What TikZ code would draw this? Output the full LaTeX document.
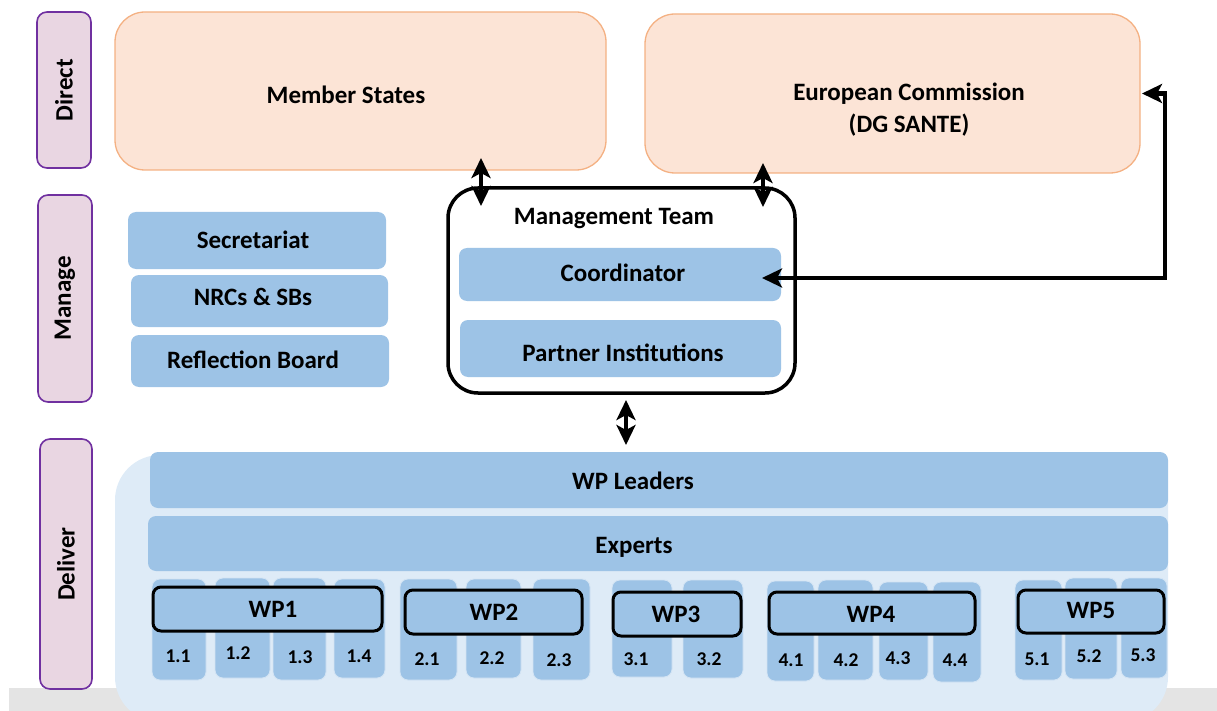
\documentclass[tikz,border=0pt]{standalone}
\usepackage{fontspec}
\setmainfont{Carlito}
\usetikzlibrary{arrows.meta,calc}
\definecolor{bblue}{HTML}{9DC3E6}
\definecolor{lblue}{HTML}{DEEBF7}
\definecolor{ofill}{HTML}{FCE4D6}
\definecolor{oline}{HTML}{F4B183}
\definecolor{pfill}{HTML}{E9D6E2}
\definecolor{pline}{HTML}{7030A0}
\definecolor{gband}{HTML}{E4E4E4}
\newcommand{\bx}[7]{\node[#1,minimum width={(#5-#3)*1pt},minimum height={(#6-#4)*1pt}] (#2) at ({(#3+#5)/2},{(#4+#6)/2}) {#7};}
\tikzset{
  box/.style={rectangle, inner sep=0pt, outer sep=0pt},
  band/.style={box, fill=gband},
  bgbox/.style={box, fill=lblue, rounded corners=45pt},
  side/.style={box, draw=pline, line width=1.6pt, fill=pfill, rounded corners=10pt},
  orange/.style={box, draw=oline, line width=1.3pt, fill=ofill, rounded corners=30pt},
  bluebox/.style={box, fill=bblue, rounded corners=8pt},
  task/.style={box, fill=bblue, draw=white!55!bblue, line width=0.8pt, rounded corners=8pt},
  wp/.style={box, fill=bblue, draw=black, line width=3pt, rounded corners=8pt},
  team/.style={box, draw=black, line width=3.5pt, fill=white, rounded corners=30pt},
  lbl/.style={font=\fontsize{25}{32}\selectfont\bfseries, inner sep=0pt, align=center},
  tlbl/.style={font=\fontsize{19.5}{22}\selectfont\bfseries, inner sep=0pt},
  dbl/.style={line width=4.5pt, {Stealth[length=20pt,width=19pt,inset=5pt]}-{Stealth[length=20pt,width=19pt,inset=5pt]}},
}
\begin{document}
\begin{tikzpicture}[x=1pt,y=-1pt]
\useasboundingbox (0,0) rectangle (1217,711);
% background band and deliver area
\bx{band}{gb}{9}{688}{1217}{711}{}
\bx{bgbox}{dbg}{115}{455}{1168}{722}{}
% side labels
\bx{side}{sdirect}{37}{12}{91}{168}{}
\bx{side}{smanage}{38}{195}{92}{402}{}
\bx{side}{sdeliver}{40}{439}{92}{689}{}
\node[lbl, rotate=90] (tdirect) at (sdirect.center) {Direct};
\node[lbl, rotate=90] (tmanage) at (smanage.center) {Manage};
\node[lbl, rotate=90] (tdeliver) at (sdeliver.center) {Deliver};
% direct level
\bx{orange}{ms}{115}{12}{606}{170}{}
\bx{orange}{ec}{645}{14}{1140}{173}{}
\node[lbl] (tms) at (346,95) {Member States};
\node[lbl] (tec) at (909,110) {European Commission\\(DG SANTE)};
% manage level
\bx{bluebox}{sec}{128}{212}{386}{269}{}
\bx{bluebox}{nrc}{131}{275}{388}{327}{}
\bx{bluebox}{rb}{131}{335}{389}{387}{}
\node[lbl] (tsec) at (253,240) {Secretariat};
\node[lbl] (tnrc) at (253,297) {NRCs \& SBs};
\node[lbl] (trb) at (253,360) {Reflection Board};
\bx{team}{mt}{448}{188}{795}{393}{}
\node[lbl] (tmt) at (614,219) {Management Team};
\bx{bluebox}{coord}{459}{248}{781}{301}{}
\bx{bluebox}{pi}{460}{320}{781}{377}{}
\node[lbl] (tcoord) at (623,273) {Coordinator};
\node[lbl] (tpi) at (623,353) {Partner Institutions};
% deliver level
\bx{bluebox}{wpl}{150}{452}{1168}{508}{}
\bx{bluebox}{exp}{148}{516}{1168}{571}{}
\node[lbl] (twpl) at (633,481) {WP Leaders};
\node[lbl] (texp) at (634,547) {Experts};
% tasks
\bx{task}{t11}{152}{579}{206}{680}{}
\bx{task}{t12}{215}{578}{270}{678}{}
\bx{task}{t13}{273}{578}{326}{680}{}
\bx{task}{t14}{334}{579}{385}{678}{}
\bx{task}{t21}{400}{579}{457}{680}{}
\bx{task}{t22}{466}{579}{521}{678}{}
\bx{task}{t23}{533}{579}{590}{680}{}
\bx{task}{t31}{612}{580}{672}{677}{}
\bx{task}{t32}{683}{580}{743}{678}{}
\bx{task}{t41}{767}{581}{814}{681}{}
\bx{task}{t42}{818}{580}{873}{680}{}
\bx{task}{t43}{879}{582}{928}{680}{}
\bx{task}{t44}{933}{582}{981}{682}{}
\bx{task}{t51}{1015}{580}{1062}{680}{}
\bx{task}{t52}{1065}{578}{1117}{679}{}
\bx{task}{t53}{1121}{578}{1167}{678}{}
\node[tlbl] (l11) at (178,656) {1.1};
\node[tlbl] (l12) at (238,653) {1.2};
\node[tlbl] (l13) at (300,657) {1.3};
\node[tlbl] (l14) at (359,656) {1.4};
\node[tlbl] (l21) at (427,659) {2.1};
\node[tlbl] (l22) at (492,658) {2.2};
\node[tlbl] (l23) at (559,660) {2.3};
\node[tlbl] (l31) at (636,659) {3.1};
\node[tlbl] (l32) at (709,659) {3.2};
\node[tlbl] (l41) at (791,660) {4.1};
\node[tlbl] (l42) at (846,660) {4.2};
\node[tlbl] (l43) at (898,658) {4.3};
\node[tlbl] (l44) at (955,660) {4.4};
\node[tlbl] (l51) at (1037,659) {5.1};
\node[tlbl] (l52) at (1089,656) {5.2};
\node[tlbl] (l53) at (1143,655) {5.3};
% work packages
\bx{wp}{wp1}{153}{587}{382}{631}{}
\bx{wp}{wp2}{405}{590}{582}{634}{}
\bx{wp}{wp3}{613}{592}{741}{636}{}
\bx{wp}{wp4}{769}{592}{975}{634}{}
\bx{wp}{wp5}{1018}{590}{1164}{633}{}
\node[lbl] (twp1) at (273,609) {WP1};
\node[lbl] (twp2) at (494,612) {WP2};
\node[lbl] (twp3) at (676,614) {WP3};
\node[lbl] (twp4) at (871,614) {WP4};
\node[lbl] (twp5) at (1091,610) {WP5};
% connectors
\draw[dbl] ([xshift=120.5pt,yshift=12pt]ms.south) -- ([xshift=-140.5pt,yshift=-18pt]mt.north);
\draw[dbl] ([xshift=-129.5pt,yshift=10pt]ec.south) -- ([xshift=141.5pt,yshift=-19pt]mt.north);
\draw[dbl] ([xshift=4.5pt,yshift=-7pt]mt.south) -- ([xshift=-33pt,yshift=7pt]wpl.north);
\coordinate (bend) at (1165,278);
\draw[dbl] ([xshift=-19pt,yshift=-3.5pt]coord.east) -- (bend) |- ([xshift=2pt]ec.east);
\end{tikzpicture}
\end{document}
